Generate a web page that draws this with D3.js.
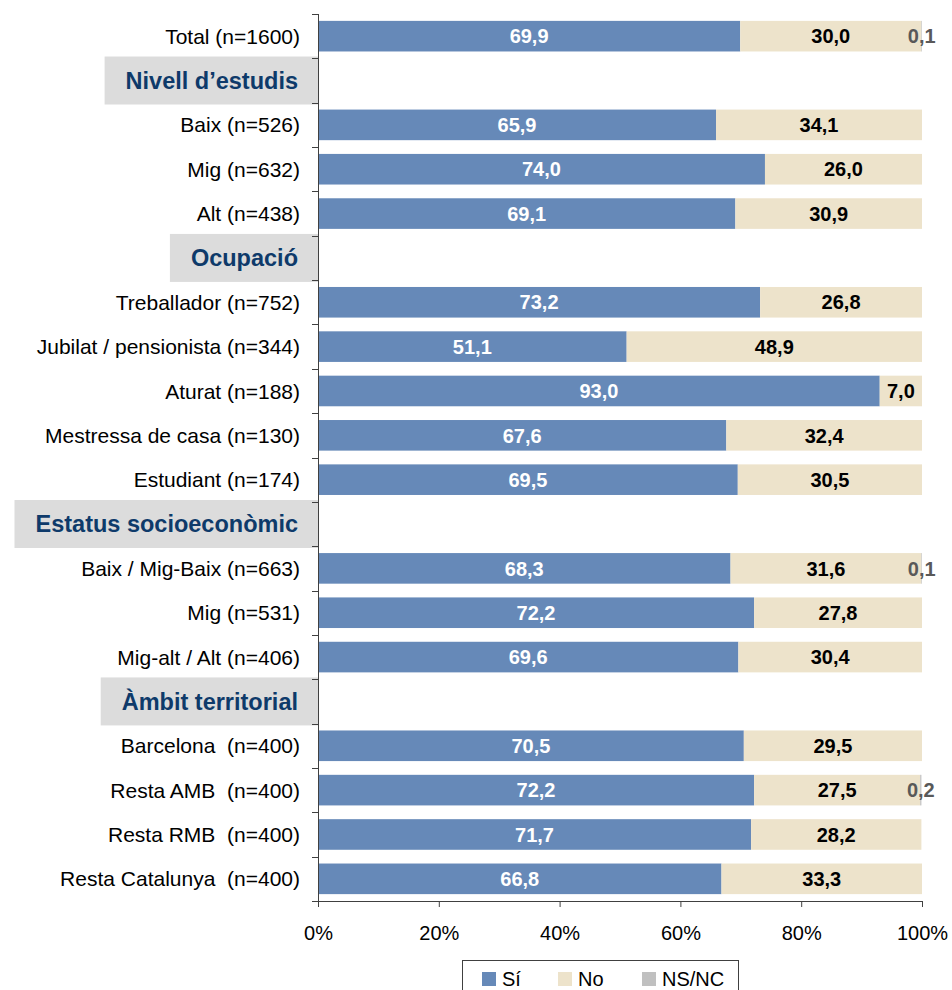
<!DOCTYPE html>
<html><head><meta charset="utf-8">
<script src="https://cdn.jsdelivr.net/npm/d3@7"></script>
<style>body{margin:0;background:#fff;} svg{display:block;font-family:"Liberation Sans",Arial,sans-serif;}</style>
</head><body>
<div id="chart"></div>
<script>
// Row labels (headers flagged separately)
const rowLabels = ["Total (n=1600)","Nivell d’estudis","Baix (n=526)","Mig (n=632)","Alt (n=438)","Ocupació","Treballador (n=752)","Jubilat / pensionista (n=344)","Aturat (n=188)","Mestressa de casa (n=130)","Estudiant (n=174)","Estatus socioeconòmic","Baix / Mig-Baix (n=663)","Mig (n=531)","Mig-alt / Alt (n=406)","Àmbit territorial","Barcelona  (n=400)","Resta AMB  (n=400)","Resta RMB  (n=400)","Resta Catalunya  (n=400)"];
const headerRows = ["Nivell d’estudis","Ocupació","Estatus socioeconòmic","Àmbit territorial"];
const siValues =   [69.9,null,65.9,74.0,69.1,null,73.2,51.1,93.0,67.6,69.5,null,68.3,72.2,69.6,null,70.5,72.2,71.7,66.8];
const noValues =   [30.0,null,34.1,26.0,30.9,null,26.8,48.9,7.0,32.4,30.5,null,31.6,27.8,30.4,null,29.5,27.5,28.2,33.3];
const nsncValues = [0.1,null,0,0,0,null,0,0,0,0,0,null,0.1,0,0,null,0,0.2,0,0];
const seriesNames = ["Sí","No","NS/NC"];
const seriesColors = ["#6689B8","#EDE3CB","#C0C0C0"];
const labelColors = ["#FFFFFF","#000000","#595959"];
const xTicks = [0,20,40,60,80,100];

const W=952,H=990;
const svg=d3.select("#chart").append("svg").attr("width",W).attr("height",H);
const x=d3.scaleLinear().domain([0,100]).range([318,922]).clamp(true);
const y=d3.scaleBand().domain(rowLabels).range([14,901]).paddingInner(0.31).paddingOuter(0.155);
const step=y.step();

// header boxes
const hdr=svg.append("g");
headerRows.forEach(h=>{
  const cy=y(h)+y.bandwidth()/2;
  const g=hdr.append("g");
  const rect=g.append("rect").attr("fill","#DCDCDC");
  const t=g.append("text").attr("x",298).attr("y",cy).attr("dy","0.36em").attr("text-anchor","end")
    .attr("font-size",23.5).attr("font-weight","bold").attr("fill","#0E3A6A").text(h);
  const bb=t.node().getBBox();
  rect.attr("x",bb.x-21).attr("width",318-(bb.x-21)).attr("y",cy-24).attr("height",48);
});

// bars
const data=rowLabels.map((r,i)=>({r,vals:[siValues[i],noValues[i],nsncValues[i]]})).filter(d=>d.vals[0]!==null);
const gb=svg.append("g");
data.forEach(d=>{
  let acc=0;
  d.vals.forEach((v,k)=>{
    const x0=acc; acc+=v;
    if(v>0){
      gb.append("rect").attr("x",x(x0)).attr("y",y(d.r)).attr("width",Math.max(0,x(acc)-x(x0))).attr("height",y.bandwidth()).attr("fill",seriesColors[k]);
    }
  });
  acc=0;
  d.vals.forEach((v,k)=>{
    const x0=acc; acc+=v;
    if(v>0){
      gb.append("text").attr("x",(x(x0)+x(x0+v))/2).attr("y",y(d.r)+y.bandwidth()/2).attr("dy","0.36em")
        .attr("text-anchor","middle").attr("font-size",20).attr("font-weight","bold").attr("fill",labelColors[k])
        .text(v.toFixed(1).replace(".",","));
    }
  });
});

// category labels
svg.append("g").selectAll("text").data(rowLabels.filter(r=>!headerRows.includes(r))).join("text")
  .attr("x",300).attr("y",d=>y(d)+y.bandwidth()/2).attr("dy","0.36em").attr("text-anchor","end")
  .attr("font-size",21).attr("fill","#000").style("white-space","pre").attr("xml:space","preserve").text(d=>d);

// y axis line with boundary ticks
const ax=svg.append("g").attr("stroke","#404040").attr("stroke-width",1);
ax.append("line").attr("x1",318.5).attr("x2",318.5).attr("y1",14).attr("y2",901);
d3.range(rowLabels.length+1).forEach(i=>{
  const yy=Math.round(y.range()[0]+i*step)+0.5;
  ax.append("line").attr("x1",312).attr("x2",318.5).attr("y1",yy).attr("y2",yy);
});
// x axis
const xa=svg.append("g").attr("transform","translate(0,901)")
  .call(d3.axisBottom(x).tickValues(xTicks).tickSize(6).tickPadding(19).tickFormat(d=>d+"%"));
xa.select(".domain").attr("stroke","#404040");
xa.selectAll(".tick line").attr("stroke","#404040");
xa.selectAll(".tick text").attr("font-size",20).attr("fill","#000").attr("font-family","Liberation Sans, Arial, sans-serif");

// legend
const lg=svg.append("g");
lg.append("rect").attr("x",462.5).attr("y",960.5).attr("width",276).attr("height",40).attr("fill","#fff").attr("stroke","#404040");
const lx=[482,558,642];
seriesNames.forEach((n,k)=>{
  lg.append("rect").attr("x",lx[k]).attr("y",972).attr("width",14).attr("height",14).attr("fill",seriesColors[k]);
  lg.append("text").attr("x",lx[k]+20).attr("y",979).attr("dy","0.36em").attr("font-size",20).attr("fill","#000").text(n);
});
</script>
</body></html>
